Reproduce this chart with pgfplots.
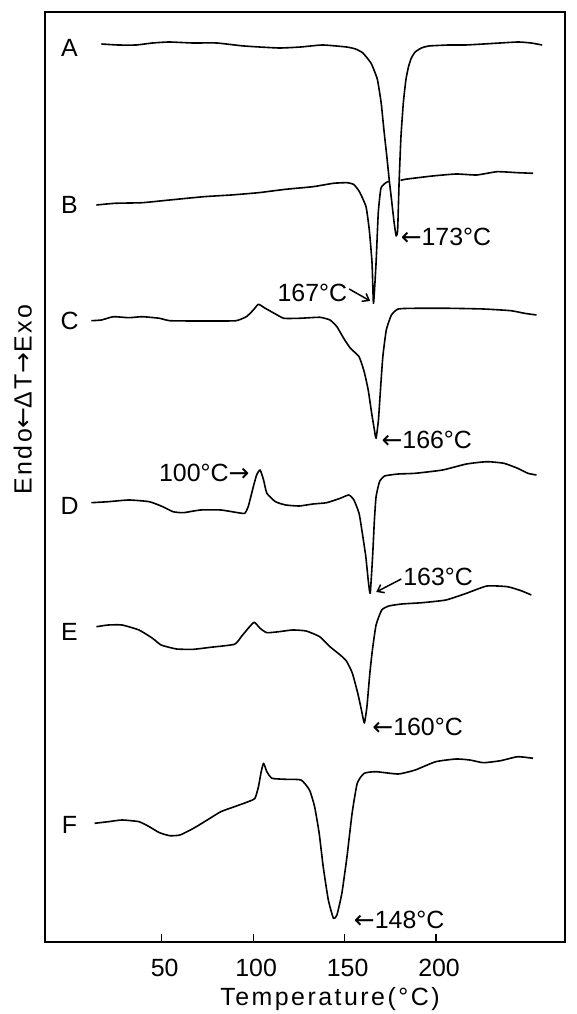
\documentclass[border=0pt]{standalone}
\usepackage{pgfplots}
\pgfplotsset{compat=1.18}
\usetikzlibrary{arrows.meta}
\usepackage{fontspec}
\setmainfont{Liberation Sans}
\newfontfamily\spaced[LetterSpace=10]{Liberation Sans}
\newfontfamily\arr{DejaVu Sans}
\newcommand\fs{\fontsize{25}{30}\selectfont}
\newcommand\la{{\arr ←}}
\newcommand\ra{{\arr →}}
\begin{document}
\begin{tikzpicture}
\begin{axis}[
  name=ax,
  scale only axis,
  width=520bp, height=930bp,
  xmin=-13.8, xmax=270.5, ymin=0, ymax=930,
  xtick={50,100,150,200},
  ytick=\empty,
  xtick pos=bottom,
  tick align=inside,
  major tick length=8bp,
  tick style={line width=1.2bp, black},
  axis line style={line width=1.6bp},
  every tick label/.append style={font=\fs},
  /pgf/number format/assume math mode=true,
  xticklabel style={anchor=base, yshift=-34bp, xshift=3bp},
  xlabel={\spaced Temperature(°C)},
  xlabel style={font=\fs, at={(axis description cs:0.548,0)}, anchor=base, yshift=-63bp},
  ylabel={\spaced Endo\la ΔT\ra Exo},
  ylabel style={font=\fs, at={(axis description cs:-0.043,0.583)}, anchor=center},
  clip=false,
  unbounded coords=jump,
  curve/.style={black, line width=1.6bp, line join=round, mark=none, smooth, tension=0.3},
]
% A
\addplot[curve] coordinates {(17,898)(26,897)(36,897)(45,899)(54,900)(67,899)(80,899)(95,896)(114,894)(126,895)(138,897)(151,895)(156,893)(160,889)(164.4,879)(166.5,870)(168,862)(170,839)(171.5,812)(173,787)(174.4,762)(175.8,740)(177.1,719)(178.2,706)(179,712)(179.8,760)(180.8,805)(182.1,839)(183.5,862)(184.9,875)(186.5,884)(188.6,890)(192,894)(196,896)(207,897)(216,897)(226,898)(235,899)(245,900)(252,899)(258,897)};
% B
\addplot[curve] coordinates {(14.3,737)(24.5,738.7)(39.4,739.3)(54.4,742)(73,745.3)(87.9,747)(102.9,749.3)(117.8,752.7)(132.7,755.3)(143.9,758.7)(151.3,759.3)(155,757.5)(158.1,750.3)(161.7,735.3)(163.5,712)(165,679)(165.8,638.7)(167.2,679)(168.4,729)(169.9,754)(172.9,759.7)(174.2,760.5)(177,nan)(180.6,761.5)(183.1,762.7)(198,766)(211,768)(222.2,767)(233.4,770.3)(244.6,769.3)(253,768.7)};
% C
\addplot[curve] coordinates {(11.5,621.3)(17.1,622)(23.6,625.3)(32,624.3)(39.5,625.3)(48.8,623.7)(54.4,621.3)(67.4,621)(80.5,621)(90.7,621.3)(96.3,625.3)(100.1,632)(102.9,637.7)(106.6,633.7)(112.2,628)(116.8,623.7)(125.2,623.7)(136.4,624.7)(142,622)(145.8,615.3)(149.5,603.7)(153.2,593.7)(157.9,585.3)(160.7,570.3)(162.9,552)(164.8,528.7)(166.3,512)(167.2,503.7)(168.5,522)(169.6,552)(170.9,585.3)(172.8,612)(175.6,627)(179.3,633)(188.6,633.7)(207.3,633.7)(225.9,633)(240.9,631.3)(248.3,628.7)(254.9,627)};
% D
\addplot[curve] coordinates {(11.5,439.3)(20.8,440.3)(32,442)(43.2,440.3)(50.6,435.3)(56.2,430.3)(61.8,429.3)(71.2,432)(82.3,432)(91.7,429.3)(95.4,428.7)(97.3,435.3)(100.1,455.3)(101.9,467)(103.8,472)(105.7,462)(107.5,448.7)(112.2,440.3)(117.8,437)(125.2,436)(132.7,438)(140.2,439.3)(147.6,443.7)(152.3,447)(155.1,442)(157.9,428.7)(159.7,408.7)(161.6,385.3)(162.9,362)(164,348.7)(165.3,385.3)(166.3,422)(167.2,445.3)(169.1,460.3)(171.9,466)(179.3,468)(188.6,468.7)(203.6,472)(216.6,478)(227.8,480.3)(237.1,478.7)(244.6,473.7)(250.2,468.7)(254.9,467)};
% E
\addplot[curve] coordinates {(14.3,315.3)(20.8,317)(28.3,317)(37.6,312)(45,303.7)(49.7,297)(58.1,293)(67.4,292.7)(76.7,294.7)(89.8,297.7)(93.5,305.3)(97.3,313.7)(100.6,319.7)(103.8,313.7)(107.5,309.3)(114.1,310.3)(121.5,312)(129,311)(136.4,305.3)(142,295.3)(147.6,287)(151,281)(154.2,269)(157.2,248.7)(159.2,232)(160.8,219)(162.2,235.3)(163.8,268.7)(165.2,292)(167.2,317)(170.3,332)(174.2,336)(181.2,338)(192.4,339.3)(205.4,342)(216.6,348.7)(227.8,356)(239,355.3)(246.5,351.3)(252.1,347)};
% F
\addplot[curve] coordinates {(13.3,118.7)(20.8,120.3)(28.3,122)(37.6,120.3)(43.2,115.3)(48.8,109.3)(54.4,106.3)(60,107)(67.4,113.7)(74.9,122)(82.3,130.3)(89.8,135.3)(97.3,140.3)(101,143.7)(102.9,155.3)(104.4,170.3)(105.7,178.7)(107.5,170.3)(110.3,163.7)(117.8,162.7)(126.2,162)(130.8,152)(133.6,135.3)(136.1,108.7)(138.3,75.3)(141.1,42)(143.9,23.7)(145.8,27)(148.5,48.7)(151.3,85.3)(154.1,128.7)(156.9,158.7)(160.7,168.7)(167.2,170.3)(179.3,168)(188.6,172)(199.8,180.3)(211,183)(218.5,182)(225.9,179.3)(235.3,181.3)(244.6,185.3)(253,183.7)};
% curve letters
\node[font=\fs] at (axis cs:-0.4,894) {A};
\node[font=\fs] at (axis cs:-0.4,737) {B};
\node[font=\fs] at (axis cs:-0.4,621) {C};
\node[font=\fs] at (axis cs:-0.4,436) {D};
\node[font=\fs] at (axis cs:-0.4,310) {E};
\node[font=\fs] at (axis cs:-0.4,117) {F};
% annotations
\node[font=\fs, anchor=west, inner sep=0pt] at (axis cs:180.6,705) {\la173°C};
\node[font=\fs, anchor=east, inner sep=0pt] at (axis cs:151.5,649) {167°C};
\draw[line width=1.5bp, -{Straight Barb[length=6bp,width=9bp]}] (axis cs:152.5,653) -- (axis cs:164,641);
\node[font=\fs, anchor=west, inner sep=0pt] at (axis cs:170.1,502) {\la166°C};
\node[font=\fs, anchor=east, inner sep=0pt] at (axis cs:98.1,469) {100°C\ra};
\node[font=\fs, anchor=west, inner sep=0pt] at (axis cs:182,365) {163°C};
\draw[line width=1.5bp, -{Straight Barb[length=6bp,width=9bp]}] (axis cs:181,363) -- (axis cs:167.3,350);
\node[font=\fs, anchor=west, inner sep=0pt] at (axis cs:165.1,215) {\la160°C};
\node[font=\fs, anchor=west, inner sep=0pt] at (axis cs:155,22) {\la148°C};
\end{axis}
\pgfresetboundingbox
\path[use as bounding box] ([shift={(-45bp,-72bp)}]ax.south west) rectangle ([shift={(11bp,12bp)}]ax.north east);
\end{tikzpicture}
\end{document}
